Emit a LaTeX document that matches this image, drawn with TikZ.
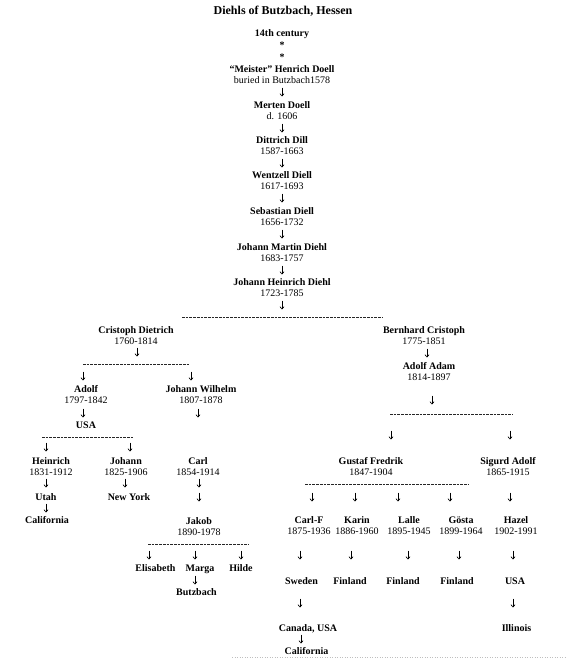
\documentclass[tikz,border=0pt]{standalone}
\usepackage{fontspec}
\setmainfont{Liberation Serif}
\usetikzlibrary{arrows.meta}
\newcommand\dnar[2]{\draw[dnarrow] (#1,#2-4.5) -- (#1,#2+4.5);}
\begin{document}
\begin{tikzpicture}[x=1pt,y=-1pt,
  txt/.style={align=center,inner sep=0pt,anchor=north,font=\fontsize{10}{11}\selectfont},
  nm/.style={txt,font=\fontsize{10}{11}\selectfont\bfseries},
  dnarrow/.style={line width=0.6pt,-{Straight Barb[length=2.4pt,width=4.2pt]}},
  dashline/.style={line width=0.7pt,dash pattern=on 2.7pt off 1pt,draw=black!85},
]
\useasboundingbox (0,0) rectangle (567,659);
\fill[white] (0,0) rectangle (567,659);
% title and main line
\node[nm,font=\fontsize{12}{14}\selectfont\bfseries] (title) at (283,5.5) {Diehls of Butzbach, Hessen};
\node[nm] (c14) at (282,29.5) {14th century};
\node[nm] (star1) at (282,41.5) {*};
\node[nm] (star2) at (282,54) {*};
\node[txt] (meister) at (282,65.5) {{\bfseries “Meister” Henrich Doell}\\buried in Butzbach1578};
\node[txt] (merten) at (282,101.5) {{\bfseries Merten Doell}\\d. 1606};
\node[txt] (dittrich) at (282,136.5) {{\bfseries Dittrich Dill}\\1587-1663};
\node[txt] (wentzell) at (282,171.5) {{\bfseries Wentzell Diell}\\1617-1693};
\node[txt] (sebastian) at (282,207.5) {{\bfseries Sebastian Diell}\\1656-1732};
\node[txt] (jmartin) at (282,243.5) {{\bfseries Johann Martin Diehl}\\1683-1757};
\node[txt] (jheinrich) at (282,278.5) {{\bfseries Johann Heinrich Diehl}\\1723-1785};
\dnar{282}{92}\dnar{282}{128}\dnar{282}{163}\dnar{282}{198}
\dnar{282}{234}\dnar{282}{270}\dnar{282}{305}
\draw[dashline] (182,317) -- (382,317);
% left branch
\node[txt] (cristoph) at (136,326) {{\bfseries Cristoph Dietrich}\\1760-1814};
\dnar{137}{352}
\draw[dashline] (83,364) -- (190,364);
\dnar{83}{376}\dnar{191}{376}
\node[txt] (adolf) at (86,385.5) {{\bfseries Adolf}\\1797-1842};
\node[txt] (jwilhelm) at (201,385.5) {{\bfseries Johann Wilhelm}\\1807-1878};
\dnar{83}{413}\dnar{198}{413}
\node[nm] (usa1) at (86,421.5) {USA};
\draw[dashline] (42,437) -- (133,437);
\dnar{46}{447}\dnar{130}{447}
\node[txt] (heinrich) at (51,457.5) {{\bfseries Heinrich}\\1831-1912};
\node[txt] (johann) at (126,457.5) {{\bfseries Johann}\\1825-1906};
\node[txt] (carl) at (198,457.5) {{\bfseries Carl}\\1854-1914};
\dnar{46}{483}\dnar{125}{483}\dnar{199}{483}\dnar{199}{497}
\node[nm] (utah) at (46,493.5) {Utah};
\node[nm] (newyork) at (129,493.5) {New York};
\dnar{46}{508}
\node[nm] (calL) at (47,516.5) {California};
\node[txt] (jakob) at (199,517.5) {{\bfseries Jakob}\\1890-1978};
\draw[dashline] (148,544) -- (249,544);
\dnar{149}{555}\dnar{195}{555}\dnar{241}{555}
\node[nm] (elisabeth) at (155.5,564.5) {Elisabeth};
\node[nm] (marga) at (200,564.5) {Marga};
\node[nm] (hilde) at (241,564.5) {Hilde};
\dnar{195}{580}
\node[nm] (butzbach) at (196.5,588.5) {Butzbach};
% right branch
\node[txt] (bernhard) at (424,326.5) {{\bfseries Bernhard Cristoph}\\1775-1851};
\dnar{427}{353}
\node[txt] (adolfadam) at (429,362.5) {{\bfseries Adolf Adam}\\1814-1897};
\dnar{432}{400}
\draw[dashline] (390,414) -- (513,414);
\dnar{391}{435}\dnar{510}{435}
\node[txt] (gustaf) at (371,457.5) {{\bfseries Gustaf Fredrik}\\1847-1904};
\node[txt] (sigurd) at (508,457.5) {{\bfseries Sigurd Adolf}\\1865-1915};
\draw[dashline] (305,484) -- (468,484);
\dnar{312}{497}\dnar{355}{497}\dnar{398}{497}\dnar{450}{497}\dnar{510}{497}
\node[txt] (carlf) at (309,516.5) {{\bfseries Carl-F}\\1875-1936};
\node[txt] (karin) at (357,516.5) {{\bfseries Karin}\\1886-1960};
\node[txt] (lalle) at (409,516.5) {{\bfseries Lalle}\\1895-1945};
\node[txt] (gosta) at (461,516.5) {{\bfseries Gösta}\\1899-1964};
\node[txt] (hazel) at (516,516.5) {{\bfseries Hazel}\\1902-1991};
\dnar{300}{555}\dnar{351}{555}\dnar{408}{555}\dnar{459}{555}\dnar{513}{555}
\node[nm] (sweden) at (301.5,577.5) {Sweden};
\node[nm] (fin1) at (350,577.5) {Finland};
\node[nm] (fin2) at (403,577.5) {Finland};
\node[nm] (fin3) at (457,577.5) {Finland};
\node[nm] (usa2) at (515,577.5) {USA};
\dnar{300}{603}\dnar{513}{603}
\node[nm] (canada) at (308,624.5) {Canada, USA};
\node[nm] (illinois) at (516.5,624.5) {Illinois};
\dnar{301}{639}
\node[nm] (calR) at (306.5,647.5) {California};
\draw[black!25,dotted,line width=0.5pt] (232,657.5) -- (567,657.5);
\end{tikzpicture}
\end{document}
